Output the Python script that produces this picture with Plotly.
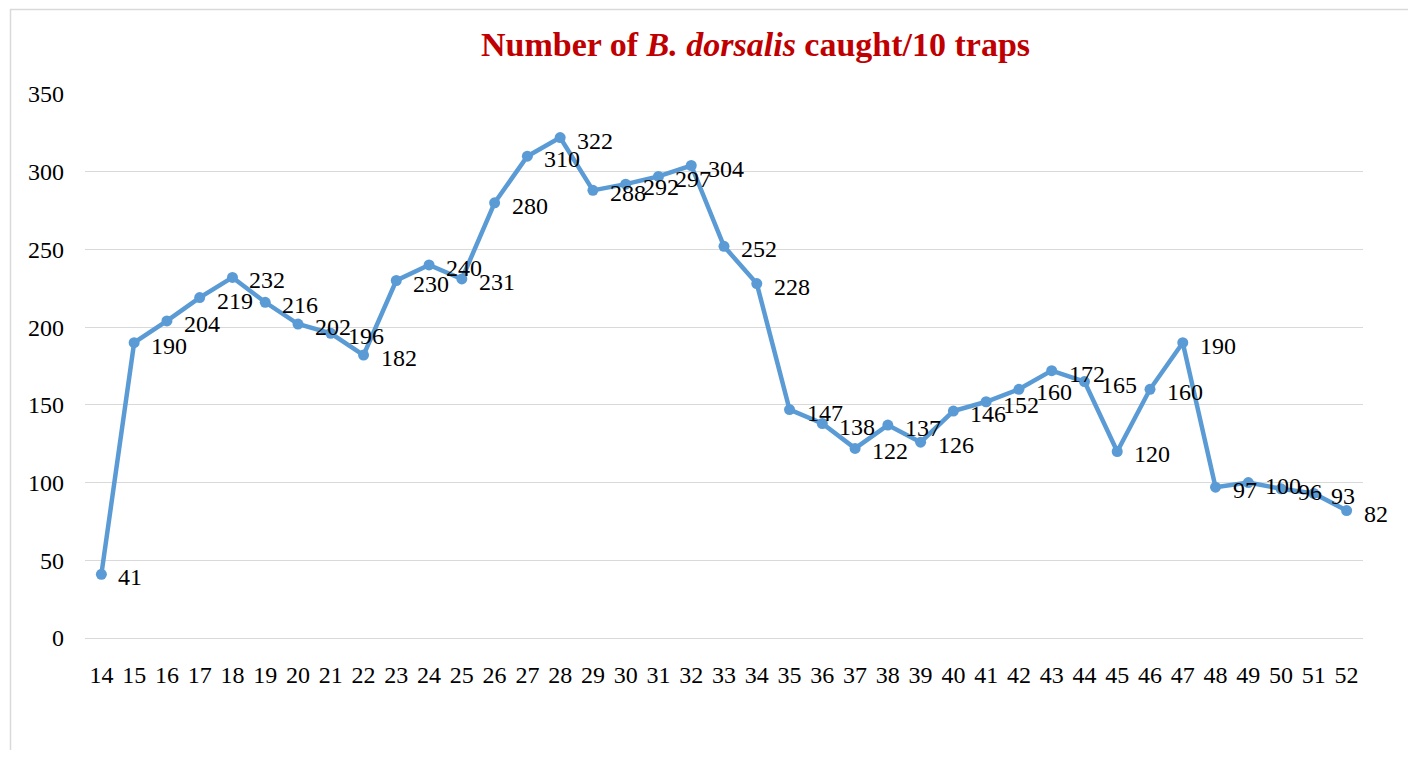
import plotly.graph_objects as go

weeks = list(range(14, 53))
counts = [41, 190, 204, 219, 232, 216, 202, 196, 182, 230, 240, 231, 280, 310, 322,
          288, 292, 297, 304, 252, 228, 147, 138, 122, 137, 126, 146, 152, 160, 172,
          165, 120, 160, 190, 97, 100, 96, 93, 82]
y_ticks = [0, 50, 100, 150, 200, 250, 300, 350]
title_text = "<b>Number of <i>B. dorsalis</i> caught/10 traps</b>"

OFF = 8  # page body margin
W, H = 1400, 742
L, R, T, B = 85 - OFF, 1363 - OFF, 94 - OFF, 638 - OFF

def px_x(px):
    return (px - OFF - L) / (R - L)

def px_y(py):
    return (B - (py - OFF)) / (B - T)

FONT = "Liberation Serif, Times New Roman, serif"

fig = go.Figure()
fig.add_trace(go.Scatter(
    x=weeks, y=counts, mode="lines+markers",
    line=dict(color="#5B9BD5", width=4.5),
    marker=dict(color="#5B9BD5", size=11),
    hoverinfo="x+y", showlegend=False,
))

annotations = []
for w, c in zip(weeks, counts):
    annotations.append(dict(
        x=w, y=c, xref="x", yref="y", text=str(c), showarrow=False,
        xanchor="left", yanchor="middle", xshift=15, yshift=-3,
        font=dict(family=FONT, size=24, color="#000000"),
    ))
annotations.append(dict(
    x=px_x(755), y=px_y(45), xref="paper", yref="paper", text=title_text,
    showarrow=False, xanchor="center", yanchor="middle",
    font=dict(family=FONT, size=34, color="#C00000"),
))

fig.update_layout(
    width=W, height=H,
    margin=dict(l=L, r=W - R, t=T, b=H - B, pad=0),
    paper_bgcolor="white", plot_bgcolor="white",
    font=dict(family=FONT, size=24, color="#000000"),
    annotations=annotations,
    shapes=[dict(type="rect", xref="paper", yref="paper",
                 x0=px_x(10.5), x1=px_x(1430), y0=px_y(780), y1=px_y(9.5),
                 line=dict(color="#D9D9D9", width=1.5), fillcolor="rgba(0,0,0,0)",
                 layer="below")],
    xaxis=dict(
        range=[13.5, 52.5], tickmode="array", tickvals=weeks,
        ticktext=[str(w) for w in weeks], showgrid=False, zeroline=False,
        showline=False, ticks="", ticklabelstandoff=20,
        tickfont=dict(family=FONT, size=24, color="#000000"),
    ),
    yaxis=dict(
        range=[0, 350], tickmode="array", tickvals=y_ticks,
        showgrid=True, gridcolor="#D9D9D9", gridwidth=1.3,
        zeroline=True, zerolinecolor="#D9D9D9", zerolinewidth=1.3,
        showline=False, ticks="", ticklabelstandoff=20,
        tickfont=dict(family=FONT, size=24, color="#000000"),
    ),
)

fig.write_html("out.html")
